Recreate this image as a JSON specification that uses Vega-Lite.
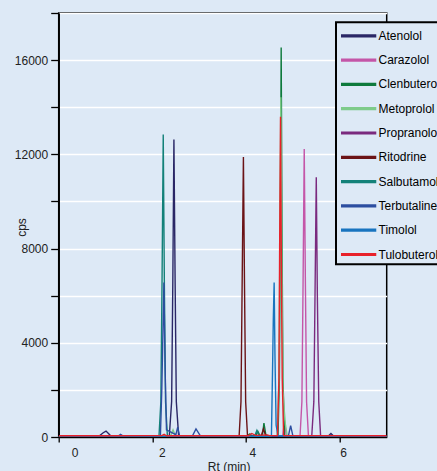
{
  "$schema": "https://vega.github.io/schema/vega-lite/v6.json",
  "autosize": {"type": "none"},
  "width": 328,
  "height": 424,
  "padding": {"left": 58.7, "top": 13, "right": 50.3, "bottom": 34},
  "background": "#dde9f6",
  "config": {
    "font": "Liberation Sans",
    "view": {"stroke": "#000000", "strokeWidth": 1.5, "fill": "#dde9f6"},
    "axis": {"labelFont": "Liberation Sans", "titleFont": "Liberation Sans", "labelFontSize": 12, "titleFontSize": 12, "labelColor": "#222222", "titleColor": "#222222", "titleFontWeight": "normal", "domainColor": "#000000", "domainWidth": 1.5, "tickColor": "#000000", "tickWidth": 1.3}
  },
  "data": {"values": [
    {"c":"Atenolol","t":0,"v":20},{"c":"Atenolol","t":0.85,"v":20},{"c":"Atenolol","t":0.95,"v":180},{"c":"Atenolol","t":1.01,"v":250},{"c":"Atenolol","t":1.1,"v":70},{"c":"Atenolol","t":1.2,"v":30},{"c":"Atenolol","t":2.0,"v":20},{"c":"Atenolol","t":2.36,"v":30},{"c":"Atenolol","t":2.41,"v":1500},{"c":"Atenolol","t":2.435,"v":6500},{"c":"Atenolol","t":2.459,"v":12630},{"c":"Atenolol","t":2.485,"v":6500},{"c":"Atenolol","t":2.51,"v":1500},{"c":"Atenolol","t":2.56,"v":30},{"c":"Atenolol","t":3.5,"v":20},{"c":"Atenolol","t":5.75,"v":30},{"c":"Atenolol","t":5.81,"v":150},{"c":"Atenolol","t":5.87,"v":30},{"c":"Atenolol","t":6.5,"v":40},{"c":"Atenolol","t":7,"v":20},
    {"c":"Carazolol","t":0,"v":15},{"c":"Carazolol","t":4.78,"v":20},{"c":"Carazolol","t":4.82,"v":700},{"c":"Carazolol","t":4.86,"v":30},{"c":"Carazolol","t":5.15,"v":30},{"c":"Carazolol","t":5.19,"v":1500},{"c":"Carazolol","t":5.215,"v":6500},{"c":"Carazolol","t":5.24,"v":12230},{"c":"Carazolol","t":5.265,"v":6500},{"c":"Carazolol","t":5.29,"v":1500},{"c":"Carazolol","t":5.33,"v":30},{"c":"Carazolol","t":7,"v":15},
    {"c":"Clenbuterol","t":0,"v":20},{"c":"Clenbuterol","t":4.0,"v":20},{"c":"Clenbuterol","t":4.08,"v":130},{"c":"Clenbuterol","t":4.13,"v":30},{"c":"Clenbuterol","t":4.2,"v":40},{"c":"Clenbuterol","t":4.25,"v":240},{"c":"Clenbuterol","t":4.3,"v":40},{"c":"Clenbuterol","t":4.35,"v":100},{"c":"Clenbuterol","t":4.38,"v":590},{"c":"Clenbuterol","t":4.42,"v":100},{"c":"Clenbuterol","t":4.46,"v":40},{"c":"Clenbuterol","t":4.68,"v":40},{"c":"Clenbuterol","t":4.71,"v":2500},{"c":"Clenbuterol","t":4.73,"v":9000},{"c":"Clenbuterol","t":4.748,"v":16530},{"c":"Clenbuterol","t":4.765,"v":9000},{"c":"Clenbuterol","t":4.785,"v":2500},{"c":"Clenbuterol","t":4.82,"v":40},{"c":"Clenbuterol","t":7,"v":20},
    {"c":"Metoprolol","t":0,"v":15},{"c":"Metoprolol","t":2.38,"v":15},{"c":"Metoprolol","t":2.44,"v":300},{"c":"Metoprolol","t":2.5,"v":15},{"c":"Metoprolol","t":4.66,"v":30},{"c":"Metoprolol","t":4.7,"v":2500},{"c":"Metoprolol","t":4.72,"v":8000},{"c":"Metoprolol","t":4.74,"v":14420},{"c":"Metoprolol","t":4.76,"v":8000},{"c":"Metoprolol","t":4.785,"v":2000},{"c":"Metoprolol","t":4.81,"v":1230},{"c":"Metoprolol","t":4.84,"v":500},{"c":"Metoprolol","t":4.88,"v":30},{"c":"Metoprolol","t":7,"v":15},
    {"c":"Propranolol","t":0,"v":15},{"c":"Propranolol","t":5.4,"v":20},{"c":"Propranolol","t":5.445,"v":1500},{"c":"Propranolol","t":5.47,"v":6000},{"c":"Propranolol","t":5.497,"v":11030},{"c":"Propranolol","t":5.52,"v":6000},{"c":"Propranolol","t":5.55,"v":1500},{"c":"Propranolol","t":5.59,"v":20},{"c":"Propranolol","t":7,"v":15},
    {"c":"Ritodrine","t":0,"v":20},{"c":"Ritodrine","t":3.85,"v":20},{"c":"Ritodrine","t":3.89,"v":1500},{"c":"Ritodrine","t":3.915,"v":6500},{"c":"Ritodrine","t":3.942,"v":11890},{"c":"Ritodrine","t":3.965,"v":6500},{"c":"Ritodrine","t":3.99,"v":1500},{"c":"Ritodrine","t":4.03,"v":30},{"c":"Ritodrine","t":4.32,"v":30},{"c":"Ritodrine","t":4.37,"v":350},{"c":"Ritodrine","t":4.42,"v":30},{"c":"Ritodrine","t":7,"v":20},
    {"c":"Salbutamol","t":0,"v":15},{"c":"Salbutamol","t":1.5,"v":20},{"c":"Salbutamol","t":2.14,"v":30},{"c":"Salbutamol","t":2.18,"v":1500},{"c":"Salbutamol","t":2.205,"v":6500},{"c":"Salbutamol","t":2.231,"v":12840},{"c":"Salbutamol","t":2.255,"v":6500},{"c":"Salbutamol","t":2.28,"v":1500},{"c":"Salbutamol","t":2.32,"v":30},{"c":"Salbutamol","t":4.18,"v":30},{"c":"Salbutamol","t":4.23,"v":280},{"c":"Salbutamol","t":4.28,"v":30},{"c":"Salbutamol","t":7,"v":15},
    {"c":"Terbutaline","t":0,"v":10},{"c":"Terbutaline","t":1.25,"v":10},{"c":"Terbutaline","t":1.32,"v":110},{"c":"Terbutaline","t":1.4,"v":10},{"c":"Terbutaline","t":2.17,"v":20},{"c":"Terbutaline","t":2.2,"v":2000},{"c":"Terbutaline","t":2.225,"v":4500},{"c":"Terbutaline","t":2.245,"v":6560},{"c":"Terbutaline","t":2.27,"v":3000},{"c":"Terbutaline","t":2.3,"v":300},{"c":"Terbutaline","t":2.5,"v":100},{"c":"Terbutaline","t":2.54,"v":420},{"c":"Terbutaline","t":2.58,"v":50},{"c":"Terbutaline","t":2.85,"v":30},{"c":"Terbutaline","t":2.93,"v":340},{"c":"Terbutaline","t":3.03,"v":30},{"c":"Terbutaline","t":4.9,"v":30},{"c":"Terbutaline","t":4.95,"v":480},{"c":"Terbutaline","t":5.0,"v":30},{"c":"Terbutaline","t":7,"v":10},
    {"c":"Timolol","t":0,"v":10},{"c":"Timolol","t":4.5,"v":20},{"c":"Timolol","t":4.54,"v":40},{"c":"Timolol","t":4.565,"v":3000},{"c":"Timolol","t":4.58,"v":5000},{"c":"Timolol","t":4.598,"v":6560},{"c":"Timolol","t":4.615,"v":3500},{"c":"Timolol","t":4.64,"v":500},{"c":"Timolol","t":4.68,"v":60},{"c":"Timolol","t":4.9,"v":40},{"c":"Timolol","t":7,"v":10},
    {"c":"Tulobuterol","t":0,"v":50},{"c":"Tulobuterol","t":1,"v":50},{"c":"Tulobuterol","t":2.2,"v":60},{"c":"Tulobuterol","t":2.25,"v":110},{"c":"Tulobuterol","t":2.3,"v":50},{"c":"Tulobuterol","t":4.05,"v":50},{"c":"Tulobuterol","t":4.12,"v":150},{"c":"Tulobuterol","t":4.2,"v":70},{"c":"Tulobuterol","t":4.45,"v":90},{"c":"Tulobuterol","t":4.5,"v":60},{"c":"Tulobuterol","t":4.67,"v":60},{"c":"Tulobuterol","t":4.7,"v":2500},{"c":"Tulobuterol","t":4.715,"v":8000},{"c":"Tulobuterol","t":4.734,"v":13600},{"c":"Tulobuterol","t":4.75,"v":8000},{"c":"Tulobuterol","t":4.77,"v":2500},{"c":"Tulobuterol","t":4.8,"v":60},{"c":"Tulobuterol","t":7,"v":50}
  ]},
  "mark": {"type": "line", "strokeWidth": 1.4, "clip": true},
  "encoding": {
    "x": {"field": "t", "type": "quantitative", "scale": {"domain": [0, 7], "nice": false, "zero": false},
      "axis": {"values": [0, 2, 4, 6], "grid": false, "tickSize": 5, "labelPadding": 5, "labelOffset": {"expr": "12.5 - 1.55 * datum.value"}, "title": "Rt (min)", "titleX": 170, "titleY": 29, "titleBaseline": "middle", "titleAlign": "center"}},
    "y": {"field": "v", "type": "quantitative", "scale": {"domain": [0, 18000], "nice": false},
      "axis": {"values": [0, 2000, 4000, 6000, 8000, 10000, 12000, 14000, 16000, 18000], "format": "d", "labelExpr": "datum.value % 4000 == 0 && datum.value < 18000 ? datum.label : ''", "grid": true, "gridColor": "#ffffff", "gridWidth": 1.5, "gridOpacity": 1, "tickSize": 8, "labelPadding": 3, "title": "cps", "titleX": -37, "titleY": 214, "titleBaseline": "middle", "titleAlign": "center", "titleAngle": -90}},
    "color": {"field": "c", "type": "nominal",
      "scale": {"domain": ["Atenolol", "Carazolol", "Clenbuterol", "Metoprolol", "Propranolol", "Ritodrine", "Salbutamol", "Terbutaline", "Timolol", "Tulobuterol"],
        "range": ["#2a2766", "#c456a8", "#0e7a3c", "#7ecb8a", "#7a2a7e", "#6b1316", "#138179", "#2c4ea0", "#1874bf", "#e8212a"]},
      "legend": {"title": null, "orient": "none", "legendX": 277.3, "legendY": 9.3, "symbolType": "M-1,0H3.15", "symbolSize": 289, "symbolStrokeWidth": 3.2, "labelFontSize": 12, "labelFont": "Liberation Sans", "labelColor": "#000000", "labelOffset": 18.5, "rowPadding": 7.3, "padding": 3, "fillColor": "#dde9f6", "cornerRadius": 0, "labelLimit": 200,
        "encode": {"legend": {"update": {"stroke": {"value": "#000000"}, "strokeWidth": {"value": 2}}}}}}
  }
}
